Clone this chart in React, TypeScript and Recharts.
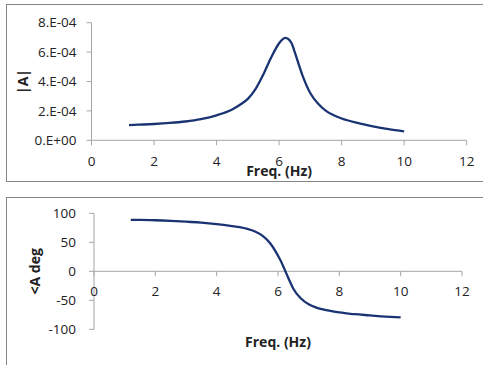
import React from "react";
import { LineChart, Line, XAxis, YAxis, ReferenceLine, Label } from "recharts";

const freqs = [1.2, 1.5, 2, 2.5, 3, 3.5, 4, 4.5, 4.75, 5, 5.25, 5.5, 5.75, 6, 6.1, 6.2, 6.3, 6.4, 6.5, 6.75, 7, 7.25, 7.5, 7.75, 8, 8.5, 9, 9.5, 10];
const amplitude = [
  1.03e-4, 1.06e-4, 1.11e-4, 1.18e-4, 1.28e-4, 1.44e-4, 1.7e-4, 2.1e-4, 2.42e-4, 2.82e-4, 3.5e-4, 4.5e-4, 5.65e-4, 6.6e-4,
  6.85e-4, 6.97e-4, 6.88e-4, 6.6e-4, 6.0e-4, 4.4e-4, 3.2e-4, 2.48e-4, 2.0e-4, 1.7e-4, 1.48e-4, 1.18e-4, 0.95e-4, 0.76e-4, 0.61e-4,
];
const phase = [
  88.5, 88.5, 88, 87, 85.5, 84, 81.5, 78, 76, 73, 68.5, 61, 48, 27, 17, 5, -7, -19, -30, -47, -57, -62.5, -66, -68.5, -71, -74, -76,
  -78, -79.5,
];

const freqTicks = [0, 2, 4, 6, 8, 10, 12];
const ampTicks = [0, 2e-4, 4e-4, 6e-4, 8e-4];
const ampTickLabels = ["0.E+00", "2.E-04", "4.E-04", "6.E-04", "8.E-04"];
const phaseTicks = [-100, -50, 0, 50, 100];

const ampData = freqs.map((f, i) => ({ f, a: amplitude[i] }));
const phaseData = freqs.map((f, i) => ({ f, p: phase[i] }));

const FONT = "'Open Sans', sans-serif";
const LINE = "#1a3473";
const AXIS = "#a6a6a6";
const TEXT = "#222";

// bottom chart geometry (x axis crosses at y = 0)
const PH_H = 180;
const PH_TOP = 28.3;
const PH_XAXIS_H = 35.7;
const PH_PLOT_H = PH_H - PH_TOP - PH_XAXIS_H;
const zeroShift = (PH_PLOT_H * (0 - phaseTicks[0])) / (phaseTicks[phaseTicks.length - 1] - phaseTicks[0]);

function YTitle({ viewBox, title, left }: any) {
  const cx = viewBox.x + left;
  const cy = viewBox.y + viewBox.height / 2;
  return (
    <text
      x={cx}
      y={cy}
      transform={`rotate(-90 ${cx} ${cy})`}
      textAnchor="middle"
      dominantBaseline="central"
      style={{ fontFamily: FONT, fontSize: 14, fontWeight: 700, fill: TEXT }}
    >
      {title}
    </text>
  );
}

function ZeroCrossTick({ x, y, payload }: any) {
  const y0 = y - zeroShift;
  return (
    <g>
      <line x1={x} x2={x} y1={y0} y2={y0 + 5} stroke={AXIS} />
      <text x={x} y={y0 + 15.5} dy="0.71em" textAnchor="middle" style={{ fontFamily: FONT, fontSize: 13.5, fill: TEXT }}>
        {payload.value}
      </text>
    </g>
  );
}

const tickStyle = { fontFamily: FONT, fontSize: 13.5, fill: TEXT };
const titleStyle = { fontFamily: FONT, fontSize: 14, fontWeight: 700, fill: TEXT };

export default function App() {
  return (
    <div style={styles.page}>
      <div style={{ ...styles.box, top: 4, height: 178 }} />
      <div style={{ ...styles.box, top: 197, height: 200 }} />

      <div style={{ position: "absolute", left: 0, top: 0 }}>
        <LineChart width={483} height={182} data={ampData} margin={{ top: 22.7, right: 16.3, bottom: 0, left: 0 }}>
          <XAxis
            dataKey="f"
            type="number"
            domain={[0, 12]}
            ticks={freqTicks}
            height={41.7}
            stroke={AXIS}
            tickSize={5}
            tickMargin={11.4}
            tick={tickStyle}
          >
            <Label value="Freq. (Hz)" position="insideBottom" offset={6} style={titleStyle} />
          </XAxis>
          <YAxis
            type="number"
            domain={[0, 8e-4]}
            ticks={ampTicks}
            tickFormatter={(v: number) => ampTickLabels[ampTicks.indexOf(v)]}
            width={91.5}
            stroke={AXIS}
            tickSize={5}
            tickMargin={10}
            tick={tickStyle}
          >
            <Label content={<YTitle title="|A|" left={22.5} />} />
          </YAxis>
          <Line type="monotone" dataKey="a" stroke={LINE} strokeWidth={2.3} dot={false} isAnimationActive={false} />
        </LineChart>
      </div>

      <div style={{ position: "absolute", left: 0, top: 185 }}>
        <LineChart width={483} height={PH_H} data={phaseData} margin={{ top: PH_TOP, right: 21, bottom: 0, left: 0 }}>
          <XAxis
            dataKey="f"
            type="number"
            domain={[0, 12]}
            ticks={freqTicks}
            height={PH_XAXIS_H}
            axisLine={false}
            tickLine={false}
            tickSize={0}
            tickMargin={0}
            tick={<ZeroCrossTick />}
          >
            <Label value="Freq. (Hz)" position="insideBottom" offset={18} style={titleStyle} />
          </XAxis>
          <YAxis
            type="number"
            domain={[-100, 100]}
            ticks={phaseTicks}
            width={94}
            stroke={AXIS}
            tickSize={5}
            tickMargin={13}
            tick={tickStyle}
          >
            <Label content={<YTitle title="<A deg" left={35} />} />
          </YAxis>
          <ReferenceLine y={0} stroke={AXIS} />
          <Line type="monotone" dataKey="p" stroke={LINE} strokeWidth={2.3} dot={false} isAnimationActive={false} />
        </LineChart>
      </div>
    </div>
  );
}

const styles: Record<string, React.CSSProperties> = {
  page: {
    position: "absolute",
    left: 0,
    top: 0,
    width: 483,
    height: 365,
    overflow: "hidden",
    background: "#fff",
  },
  box: {
    position: "absolute",
    left: 6,
    width: 500,
    boxSizing: "border-box",
    border: "1px solid #868686",
  },
};
